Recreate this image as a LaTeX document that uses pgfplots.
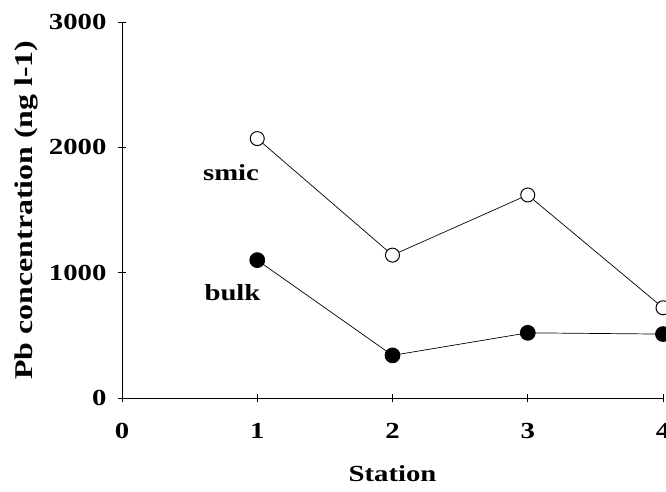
\documentclass[border=0pt]{standalone}
\usepackage{pgfplots}
\pgfplotsset{compat=1.18}
\usepackage{fontspec}
\setmainfont{Liberation Serif}[FakeStretch=1.25]
\begin{document}
\begin{tikzpicture}[font=\fontsize{23bp}{27bp}\selectfont\bfseries]
\begin{axis}[
  name=ax,
  scale only axis, width=541bp, height=376bp,
  xmin=0, xmax=4, ymin=0, ymax=3000,
  axis lines*=left,
  xtick={0,1,2,3,4}, ytick={0,1000,2000,3000},
  tick align=center, major tick length=8bp,
  tick style={black, line width=0.6bp},
  axis line style={black, line width=0.8bp},
  /pgf/number format/assume math mode=true,
  /pgf/number format/set thousands separator={},
  scaled y ticks=false,
  xticklabel style={yshift=-18bp},
  yticklabel style={xshift=-8bp},
  xlabel={Station}, ylabel={Pb concentration (ng l-1)},
  xlabel style={yshift=-20bp},
  ylabel style={yshift=4bp, font=\fontsize{25.5bp}{29bp}\selectfont\bfseries},
  clip=false,
]
\addplot[black, line width=0.7bp, mark=*, mark size=7bp,
  mark options={fill=white, line width=1bp}]
  coordinates {(1,2070) (2,1140) (3,1620) (4,720)};
\addplot[black, line width=0.7bp, mark=*, mark size=7.5bp,
  mark options={fill=black}]
  coordinates {(1,1100) (2,340) (3,520) (4,510)};
\node at (axis cs:0.806,1796) {smic};
\node at (axis cs:0.817,838) {bulk};
\end{axis}
\pgfresetboundingbox
\path[use as bounding box] ([shift={(-122bp,-93bp)}]ax.south west) rectangle ([shift={(3bp,22bp)}]ax.north east);
\end{tikzpicture}
\end{document}
